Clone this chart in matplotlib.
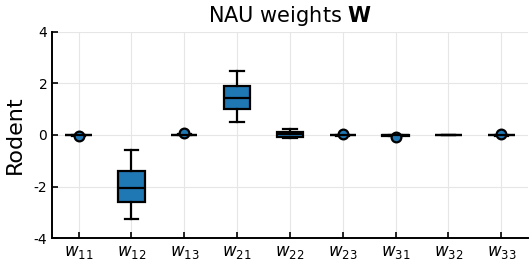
import matplotlib
matplotlib.use("Agg")
import matplotlib.pyplot as plt

plt.rcParams["axes.unicode_minus"] = False
plt.rcParams["font.family"] = ["DejaVu Sans"]

labels = ["$w_{11}$", "$w_{12}$", "$w_{13}$", "$w_{21}$", "$w_{22}$",
          "$w_{23}$", "$w_{31}$", "$w_{32}$", "$w_{33}$"]
whislo = [-0.02, -3.27, -0.01, 0.49, -0.10, -0.02, -0.03, -0.01, -0.02]
q1 = [-0.01, -2.61, 0.00, 0.99, -0.08, -0.01, -0.02, 0.00, -0.01]
med = [0.00, -2.07, 0.00, 1.42, 0.02, 0.00, -0.01, 0.00, 0.00]
q3 = [0.00, -1.41, 0.01, 1.89, 0.10, 0.00, 0.00, 0.00, 0.00]
whishi = [0.01, -0.59, 0.02, 2.47, 0.22, 0.01, 0.01, 0.01, 0.01]
fliers = [[-0.05], [], [0.08], [], [], [0.04], [-0.09], [], [0.03]]

stats = []
for i in range(len(labels)):
    stats.append({"whislo": whislo[i], "q1": q1[i], "med": med[i], "q3": q3[i],
                  "whishi": whishi[i], "fliers": fliers[i], "label": labels[i]})

blue = "#1f77b4"
fig = plt.figure(figsize=(5.32, 2.66), dpi=100)
ax = fig.add_axes([0.098, 0.105, 0.894, 0.775])

ax.bxp(stats, positions=range(1, 10), widths=0.5, patch_artist=True,
       boxprops=dict(facecolor=blue, edgecolor="black", linewidth=1.6),
       medianprops=dict(color="black", linewidth=1.6),
       whiskerprops=dict(color="black", linewidth=1.6),
       capprops=dict(color="black", linewidth=1.6),
       capwidths=0.25,
       flierprops=dict(marker="o", markerfacecolor=blue, markeredgecolor="black",
                       markersize=7, markeredgewidth=1.6))

ax.set_xlim(0.5, 9.5)
ax.set_ylim(-4, 4)
ax.set_yticks([-4, -2, 0, 2, 4])
ax.set_xticks(range(1, 10))
ax.set_xticklabels(labels, fontsize=12)
ax.tick_params(axis="y", labelsize=10)
ax.tick_params(direction="in", length=4, width=1.2)
ax.grid(True, color="#e6e6e6", linewidth=0.8)
ax.set_axisbelow(True)
for s in ["top", "right"]:
    ax.spines[s].set_visible(False)
for s in ["left", "bottom"]:
    ax.spines[s].set_linewidth(1.4)
ax.set_ylabel("Rodent", fontsize=16, labelpad=6)
ax.set_title("NAU weights $\\mathbf{W}$", fontsize=15, pad=7)

fig.savefig("out.png", dpi=100)
